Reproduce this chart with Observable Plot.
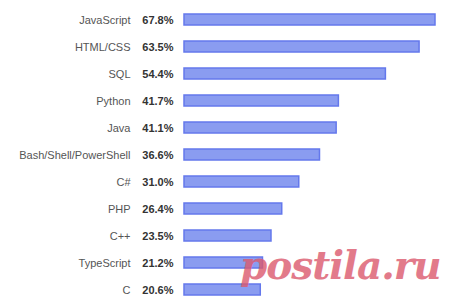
<!DOCTYPE html>
<html>
<head>
<meta charset="utf-8">
<script src="https://cdn.jsdelivr.net/npm/d3@7"></script>
<script src="https://cdn.jsdelivr.net/npm/@observablehq/plot@0.6"></script>
<style>
  html, body { margin: 0; padding: 0; background: #fff; }
  #wrap { position: relative; width: 460px; height: 307px; overflow: hidden; }
  #mark { position: absolute; left: 240px; top: 242px; font-family: "DejaVu Serif", serif; font-style: italic; font-weight: bold; font-size: 39px; line-height: 46px; color: #dc5a6e; opacity: 0.8; letter-spacing: -1px; white-space: nowrap; pointer-events: none; }
</style>
</head>
<body>
<div id="wrap"><div id="chart"></div><div id="mark">postila.ru</div></div>
<script>
const languages = ["JavaScript", "HTML/CSS", "SQL", "Python", "Java", "Bash/Shell/PowerShell", "C#", "PHP", "C++", "TypeScript", "C"];
const shares = [67.8, 63.5, 54.4, 41.7, 41.1, 36.6, 31.0, 26.4, 23.5, 21.2, 20.6];

const data = languages.map((l, i) => ({lang: l, share: shares[i]}));

const chart = Plot.plot({
  width: 460,
  height: 307,
  marginLeft: 184,
  marginRight: 25,
  marginTop: 7,
  marginBottom: 6,
  style: {fontFamily: "Arial, 'Liberation Sans', sans-serif", background: "#fff"},
  x: {domain: [0, 67.8], axis: null},
  y: {domain: languages, axis: null, paddingInner: 0.6, paddingOuter: 0.2},
  marks: [
    Plot.barX(data, {x: "share", y: "lang", fill: "#8a9cf0", stroke: "#6478ec", strokeWidth: 1.5}),
    Plot.text(data, {x: 0, y: "lang", text: "lang", textAnchor: "end", dx: -54, fill: "#555", fontSize: 11}),
    Plot.text(data, {x: 0, y: "lang", text: d => d.share.toFixed(1) + "%", textAnchor: "end", dx: -11, fill: "#333", fontSize: 11, fontWeight: "bold"})
  ]
});
document.getElementById("chart").appendChild(chart);
</script>
</body>
</html>
